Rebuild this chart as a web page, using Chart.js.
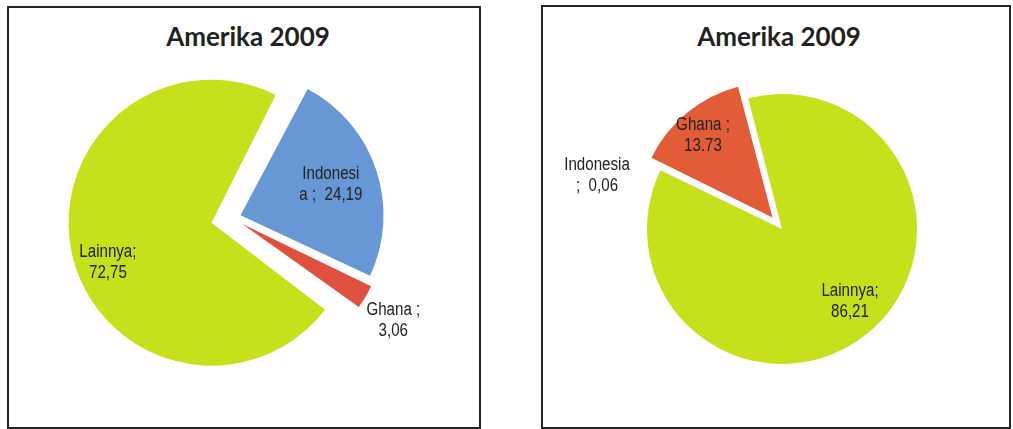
<!DOCTYPE html>
<html lang="id">
<head>
<meta charset="UTF-8" />
<title>Amerika 2009</title>
<script src="https://cdn.jsdelivr.net/npm/chart.js"></script>
<style>
  body { margin: 0; background: #fff; width: 1013px; height: 429px; overflow: hidden; position: relative; }
  .panel { position: absolute; border: 2px solid #262626; box-sizing: border-box; }
  .judul { position: absolute; width: 240px; text-align: center; font: bold 26px Lato, sans-serif; line-height: 26px; color: #222; }
  canvas { position: absolute; top: 0; }
</style>
</head>
<body>

<div class="panel" style="left:7px; top:6px; width:474px; height:423px;"></div>
<div class="panel" style="left:541px; top:5px; width:470px; height:424px;"></div>
<div class="judul" style="left:128px; top:23px;">Amerika 2009</div>
<div class="judul" style="left:659px; top:23px;">Amerika 2009</div>

<canvas id="kiri" width="500" height="429" style="left:0"></canvas>
<canvas id="kanan" width="500" height="429" style="left:513px"></canvas>

<script>
  // data (persen)
  const categories = ["Indonesia", "Ghana", "Lainnya"];
  const valuesLeft = [24.19, 3.06, 72.75];
  const valuesRight = [0.06, 13.73, 86.21];

  // teks label seperti di gambar
  const labelsLeft = [["Indonesi", "a ;  24,19"], ["Ghana ;", "3,06"], ["Lainnya;", "72,75"]];
  const labelsRight = [["Indonesia", ";  0,06"], ["Ghana ;", "13.73"], ["Lainnya;", "86,21"]];

  const colorsLeft = ["#6897d6", "#e0503e", "#c6e01c"];
  const colorsRight = ["#6897d6", "#e35c38", "#c6e01c"];

  // chart.js arc: translate = offset/4, but radius also grows by offset/4 * fix
  function growFix(circ) {
    return 1 - Math.sin(Math.min(Math.PI, circ));
  }

  // keep all slices at the same radius
  const sameRadius = {
    id: "sameRadius",
    beforeDatasetsDraw(chart) {
      const ds = chart.data.datasets[0];
      chart.getDatasetMeta(0).data.forEach((arc, i) => {
        arc.outerRadius = ds.radius - (ds.offset[i] / 4) * growFix(arc.circumference);
      });
    }
  };

  function labelPlugin(cfg) {
    return {
      id: "sliceLabels",
      afterDatasetsDraw(chart) {
        const ctx = chart.ctx;
        const ds = chart.data.datasets[0];
        const meta = chart.getDatasetMeta(0);
        ctx.save();
        ctx.font = '18px "Liberation Sans", Arial, sans-serif';
        ctx.fillStyle = "#222";
        ctx.textAlign = "center";
        ctx.textBaseline = "middle";
        meta.data.forEach((arc, i) => {
          const mid = (arc.startAngle + arc.endAngle) / 2;
          const ang = mid + cfg.tweak[i] * Math.PI / 180;
          const shift = ds.offset[i] / 4;
          const r = ds.radius * cfg.frac[i];
          const cx = arc.x + Math.cos(mid) * shift + Math.cos(ang) * r;
          const cy = arc.y + Math.sin(mid) * shift + Math.sin(ang) * r;
          const lines = cfg.lines[i];
          lines.forEach((t, k) => {
            ctx.save();
            ctx.translate(cx, cy + (k - (lines.length - 1) / 2) * 21);
            ctx.scale(0.84, 1); // narrow look like the original
            ctx.fillText(t, 0, 0);
            ctx.restore();
          });
        });
        ctx.restore();
      }
    };
  }

  function makePie(id, values, colors, explode, rotation, radius, padding, lbl) {
    return new Chart(document.getElementById(id), {
      type: "pie",
      data: {
        labels: categories,
        datasets: [{
          data: values,
          backgroundColor: colors,
          borderWidth: 0,
          offset: explode.map(px => px * 4),
          radius: radius,
          clip: false
        }]
      },
      options: {
        responsive: false,
        animation: false,
        rotation: rotation,
        layout: { padding: padding },
        events: [],
        plugins: { legend: { display: false }, tooltip: { enabled: false }, title: { display: false } }
      },
      plugins: [sameRadius, labelPlugin(lbl)]
    });
  }

  makePie("kiri", valuesLeft, colorsLeft, [9, 12, 21], 28, 143,
    { left: 0, right: 36, top: 7, bottom: 0 },
    { lines: labelsLeft, frac: [0.666, 1.253, 0.776], tweak: [0, 2, -8] });

  makePie("kanan", valuesRight, colorsRight, [15, 15, 0], 295.8, 135,
    { left: 38, right: 0, top: 29, bottom: 0 },
    { lines: labelsRight, frac: [1.317, 0.793, 0.739], tweak: [-10.6, -1.2, -3.6] });
</script>
</body>
</html>
